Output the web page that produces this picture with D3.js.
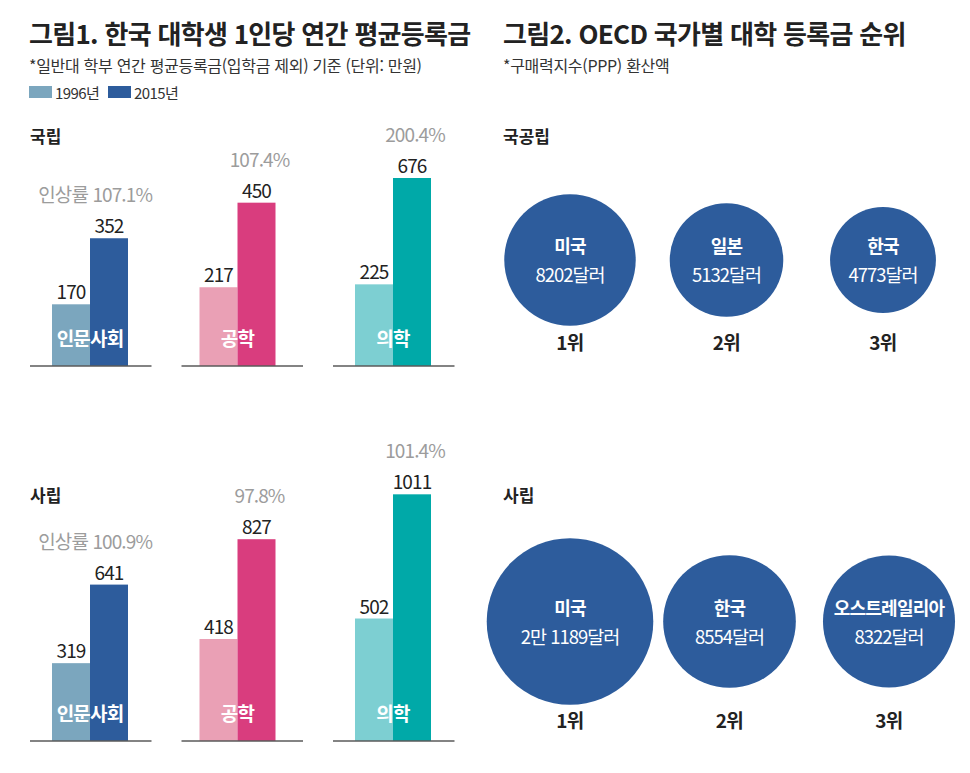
<!DOCTYPE html>
<html lang="ko">
<head>
<meta charset="utf-8">
<script src="https://cdn.jsdelivr.net/npm/d3@7"></script>
<style>
  html, body { margin: 0; padding: 0; background: #ffffff; }
  svg { display: block; font-family: "Noto Sans CJK KR", "Noto Sans", sans-serif; }
</style>
</head>
<body>
<svg id="chart" width="970" height="773"></svg>
<script>
// ---------- data ----------
const categories = ["인문사회", "공학", "의학"];
const years = ["1996년", "2015년"];
const national1996 = [170, 217, 225];
const national2015 = [352, 450, 676];
const private1996 = [319, 418, 502];
const private2015 = [641, 827, 1011];
const nationalRate = ["107.1%", "107.4%", "200.4%"];
const privateRate = ["100.9%", "97.8%", "101.4%"];
const ratePrefix = "인상률 ";

const ranks = ["1위", "2위", "3위"];
const nationalCountries = ["미국", "일본", "한국"];
const nationalFees = [8202, 5132, 4773];
const nationalFeeLabels = ["8202달러", "5132달러", "4773달러"];
const privateCountries = ["미국", "한국", "오스트레일리아"];
const privateFees = [21189, 8554, 8322];
const privateFeeLabels = ["2만 1189달러", "8554달러", "8322달러"];

// ---------- styles ----------
const colors1996 = ["#7ba6be", "#eaa0b5", "#7dcfd2"];
const colors2015 = ["#2d5c9c", "#d93d7e", "#00a9a8"];
const circleColor = "#2d5c9c";
const textDark = "#222222";
const textGray = "#9c9c9c";

const svg = d3.select("#chart");

// ---------- titles ----------
svg.append("text").attr("x", 29).attr("y", 44)
  .attr("font-size", 26).attr("font-weight", 700).attr("fill", textDark)
  .attr("letter-spacing", -0.7)
  .text("그림1. 한국 대학생 1인당 연간 평균등록금");
svg.append("text").attr("x", 29).attr("y", 72)
  .attr("font-size", 16).attr("fill", "#333").attr("letter-spacing", -0.3)
  .text("*일반대 학부 연간 평균등록금(입학금 제외) 기준 (단위: 만원)");

svg.append("text").attr("x", 503).attr("y", 44)
  .attr("font-size", 26).attr("font-weight", 700).attr("fill", textDark)
  .attr("letter-spacing", -0.7)
  .text("그림2. OECD 국가별 대학 등록금 순위");
svg.append("text").attr("x", 503).attr("y", 72)
  .attr("font-size", 16).attr("fill", "#333").attr("letter-spacing", -0.3)
  .text("*구매력지수(PPP) 환산액");

// legend
const legendColors = ["#7ba6be", "#2d5c9c"];
const legX = d3.scalePoint().domain(years).range([29, 108]);
const leg = svg.append("g").selectAll("g").data(years).join("g")
  .attr("transform", d => `translate(${legX(d)},86)`);
leg.append("rect").attr("width", 23).attr("height", 12)
  .attr("fill", (d, i) => legendColors[i]);
leg.append("text").attr("x", 26).attr("y", 12.5)
  .attr("font-size", 15).attr("fill", "#333").attr("letter-spacing", -0.6)
  .text(d => d);

// ---------- bar panels ----------
const groupX = d3.scaleBand().domain(categories).range([30, 454.5]).paddingInner(0.198);
const barX = d3.scaleBand().domain(years).range([22, 98]);

function barPanel(opts) {
  const { v1996, v2015, rates, y, baseY, title, titleY } = opts;
  const g = svg.append("g");
  g.append("text").attr("x", 30).attr("y", titleY)
    .attr("font-size", 17).attr("font-weight", 700).attr("fill", textDark)
    .text(title);

  const groups = g.selectAll("g.grp").data(categories).join("g")
    .attr("class", "grp")
    .attr("transform", d => `translate(${groupX(d)},0)`);

  groups.each(function (cat, i) {
    const gg = d3.select(this);
    const vals = [v1996[i], v2015[i]];
    const cols = [colors1996[i], colors2015[i]];
    gg.selectAll("rect").data(years).join("rect")
      .attr("x", d => barX(d) - (i === 1 ? 4 : 0))
      .attr("width", barX.bandwidth())
      .attr("y", (d, j) => y(vals[j]))
      .attr("height", (d, j) => baseY - y(vals[j]))
      .attr("fill", (d, j) => cols[j]);
    // baseline
    gg.append("line")
      .attr("x1", 0).attr("x2", groupX.bandwidth())
      .attr("y1", baseY).attr("y2", baseY)
      .attr("stroke", "#5a5a5a").attr("stroke-width", 1.5);
    const shift = i === 1 ? -4 : 0;
    // value labels
    gg.selectAll("text.val").data(years).join("text")
      .attr("class", "val")
      .attr("x", d => barX(d) + barX.bandwidth() / 2 + shift)
      .attr("y", (d, j) => y(vals[j]) - 5)
      .attr("text-anchor", "middle")
      .attr("font-size", 19).attr("fill", textDark).attr("letter-spacing", -0.9)
      .text((d, j) => vals[j]);
    // rate label
    const topY = y(vals[1]) - 5 - 31;
    const bx = barX(years[1]) + shift;
    if (i === 0) {
      gg.append("text")
        .attr("x", bx + barX.bandwidth() + 24).attr("y", topY)
        .attr("text-anchor", "end")
        .attr("font-size", 19).attr("fill", textGray).attr("letter-spacing", -0.9)
        .text(ratePrefix + rates[i]);
    } else {
      gg.append("text")
        .attr("x", bx + barX.bandwidth() / 2 + 3).attr("y", topY)
        .attr("text-anchor", "middle")
        .attr("font-size", 19).attr("fill", textGray).attr("letter-spacing", -0.9)
        .text(rates[i]);
    }
    // category label
    gg.append("text")
      .attr("x", barX(years[1]) + shift).attr("y", baseY - 20)
      .attr("text-anchor", "middle")
      .attr("font-size", 19).attr("font-weight", 700).attr("fill", "#ffffff")
      .attr("letter-spacing", -0.8)
      .text(cat);
  });
}

const yNational = d3.scaleLinear().domain([0, 518]).range([366, 178]).clamp(true);
const yPrivate = d3.scaleLinear().domain([0, 1000]).range([741, 497]);

barPanel({ v1996: national1996, v2015: national2015, rates: nationalRate,
  y: yNational, baseY: 366, title: "국립", titleY: 143 });
barPanel({ v1996: private1996, v2015: private2015, rates: privateRate,
  y: yPrivate, baseY: 741, title: "사립", titleY: 502 });

// ---------- bubble panels ----------
const rScale = d3.scaleLinear()
  .domain([4500, 5200, 8300, 21200])
  .range([50, 57.5, 66, 83.3]);

function bubblePanel(opts) {
  const { countries, fees, labels, cy, rankY, title, titleY, xs } = opts;
  const g = svg.append("g");
  g.append("text").attr("x", 503).attr("y", titleY)
    .attr("font-size", 17).attr("font-weight", 700).attr("fill", textDark)
    .text(title);
  const items = g.selectAll("g.b").data(ranks).join("g")
    .attr("class", "b")
    .attr("transform", d => `translate(${xs(d)},${cy})`);
  items.append("circle")
    .attr("r", (d, i) => rScale(fees[i]))
    .attr("fill", circleColor);
  items.append("text")
    .attr("y", -7).attr("text-anchor", "middle")
    .attr("font-size", 18).attr("font-weight", 700).attr("fill", "#fff")
    .attr("letter-spacing", -0.8)
    .text((d, i) => countries[i]);
  items.append("text")
    .attr("y", 22).attr("text-anchor", "middle")
    .attr("font-size", 18.5).attr("fill", "#fff").attr("letter-spacing", -1)
    .text((d, i) => labels[i]);
  items.append("text")
    .attr("y", rankY - cy).attr("text-anchor", "middle")
    .attr("font-size", 19).attr("font-weight", 700).attr("fill", textDark)
    .attr("letter-spacing", -0.6)
    .text(d => d);
}

bubblePanel({ countries: nationalCountries, fees: nationalFees, labels: nationalFeeLabels,
  cy: 260, rankY: 350, title: "국공립", titleY: 143,
  xs: d3.scalePoint().domain(ranks).range([570, 883]) });
bubblePanel({ countries: privateCountries, fees: privateFees, labels: privateFeeLabels,
  cy: 621.5, rankY: 728, title: "사립", titleY: 502,
  xs: d3.scalePoint().domain(ranks).range([570, 889]) });
</script>
</body>
</html>
